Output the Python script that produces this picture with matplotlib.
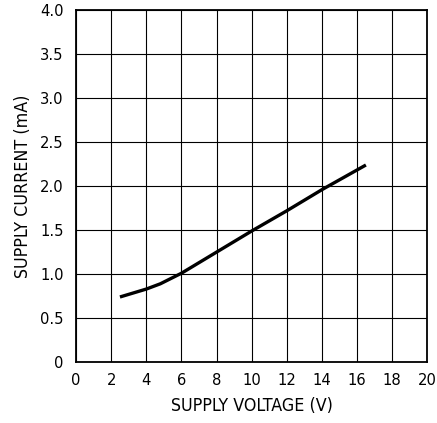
import matplotlib
matplotlib.use("Agg")
import matplotlib.pyplot as plt
from matplotlib.ticker import FixedLocator

plt.rcParams['font.family'] = ['DejaVu Sans']
plt.rcParams['font.stretch'] = 'condensed'

voltage = [2.5, 3.0, 4.0, 4.8, 6.0, 8.0, 10.0, 12.0, 14.0, 16.5]
current = [0.74, 0.77, 0.83, 0.89, 1.01, 1.25, 1.49, 1.72, 1.96, 2.24]

xticks = [0, 2, 4, 6, 8, 10, 12, 14, 16, 18, 20]
yticks = [0, 0.5, 1.0, 1.5, 2.0, 2.5, 3.0, 3.5, 4.0]
ytick_labels = ["0", "0.5", "1.0", "1.5", "2.0", "2.5", "3.0", "3.5", "4.0"]

fig = plt.figure(figsize=(4.37, 4.23), dpi=100)
ax = fig.add_axes([0.174, 0.144, 0.804, 0.832])
ax.plot(voltage, current, color='black', lw=2.4, solid_capstyle='butt', zorder=3)
ax.set_xlim(0, 20)
ax.set_ylim(0, 4.0)
ax.xaxis.set_major_locator(FixedLocator(xticks))
ax.yaxis.set_major_locator(FixedLocator(yticks))
ax.set_xticklabels([str(t) for t in xticks])
ax.set_yticklabels(ytick_labels)
ax.grid(True, color='black', lw=0.8)
ax.tick_params(axis='x', length=0, labelsize=11.8, pad=8)
ax.tick_params(axis='y', length=0, labelsize=11.8, pad=9)
for s in ax.spines.values():
    s.set_linewidth(1.3)
ax.set_xlabel("SUPPLY VOLTAGE (V)", fontsize=12.8, labelpad=6.5)
ax.set_ylabel("SUPPLY CURRENT (mA)", fontsize=12.8, labelpad=6)
fig.savefig("out.png", dpi=100)
